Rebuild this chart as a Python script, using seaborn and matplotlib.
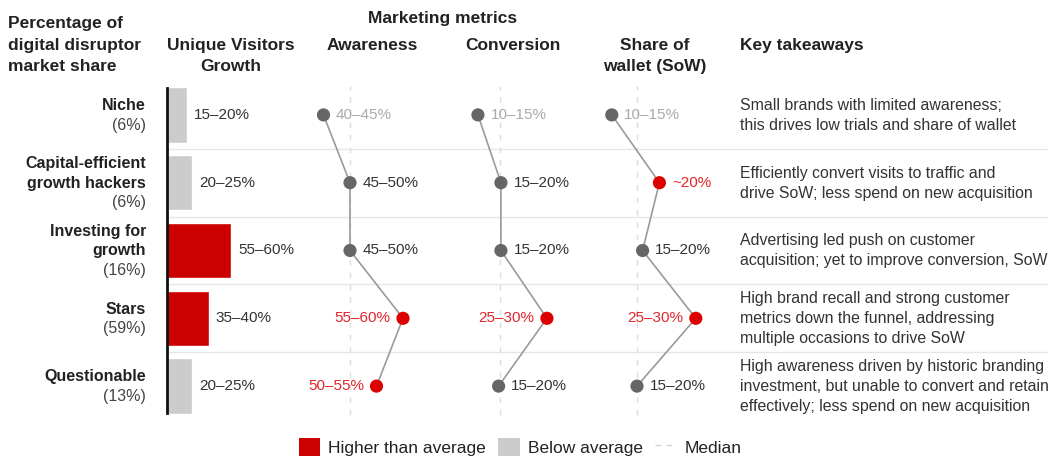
import matplotlib
matplotlib.use("Agg")
import matplotlib.pyplot as plt
from matplotlib.patches import Patch
from matplotlib.lines import Line2D
import seaborn as sns
import pandas as pd

# ---- data ----
segments = ["Niche", "Capital-efficient\ngrowth hackers", "Investing for\ngrowth", "Stars", "Questionable"]
segment_share = ["(6%)", "(6%)", "(16%)", "(59%)", "(13%)"]

visitor_growth = [17.5, 22.5, 57.5, 37.5, 22.5]
visitor_labels = ["15–20%", "20–25%", "55–60%", "35–40%", "20–25%"]
visitor_level = ["below", "below", "higher", "higher", "below"]

awareness = [42.5, 47.5, 47.5, 57.5, 52.5]
awareness_labels = ["40–45%", "45–50%", "45–50%", "55–60%", "50–55%"]
awareness_level = ["low", "median", "median", "higher", "higher"]

conversion = [12.5, 17.5, 17.5, 27.5, 17.0]
conversion_labels = ["10–15%", "15–20%", "15–20%", "25–30%", "15–20%"]
conversion_level = ["low", "median", "median", "higher", "median"]

sow = [12.5, 21.0, 18.0, 27.5, 17.0]
sow_labels = ["10–15%", "~20%", "15–20%", "25–30%", "15–20%"]
sow_level = ["low", "higher", "median", "higher", "median"]

medians = [47.5, 17.3, 17.0]

takeaways = [
    "Small brands with limited awareness;\nthis drives low trials and share of wallet",
    "Efficiently convert visits to traffic and\ndrive SoW; less spend on new acquisition",
    "Advertising led push on customer\nacquisition; yet to improve conversion, SoW",
    "High brand recall and strong customer\nmetrics down the funnel, addressing\nmultiple occasions to drive SoW",
    "High awareness driven by historic branding\ninvestment, but unable to convert and retain\neffectively; less spend on new acquisition",
]

# ---- style ----
RED = "#cc0000"
LIGHT = "#cccccc"
DOT_GRAY = "#666666"
LABEL_COLORS = {"low": "#aaaaaa", "median": "#333333", "higher": "#e2262b"}
DOT_COLORS = {"low": DOT_GRAY, "median": DOT_GRAY, "higher": "#dd0000"}
TXT = "#222222"
FS = 11
FS_TAKE = 11.4
FS_ROW = 11.5
FS_HEAD = 12.5

sns.set_theme(style="white")
plt.rcParams["font.family"] = ["Liberation Sans", "DejaVu Sans"]

W, H = 1048, 459
TOP, BOTTOM = 81, 420
fig = plt.figure(figsize=(W / 100, H / 100), dpi=100)


def px_axes(x0, x1):
    ax = fig.add_axes([x0 / W, 1 - BOTTOM / H, (x1 - x0) / W, (BOTTOM - TOP) / H])
    ax.set_ylim(4.5, -0.5)
    ax.patch.set_alpha(0)
    return ax


def ftext(x, y, s, **kw):
    kw.setdefault("fontsize", FS_HEAD)
    kw.setdefault("color", TXT)
    fig.text(x / W, 1 - y / H, s, va="baseline", **kw)


def stacked(ax, x, row, lines, pitch, weights, colors, ha, fs):
    n = len(lines)
    for i, (ln, w, c) in enumerate(zip(lines, weights, colors)):
        off = -((i - (n - 1) / 2) * pitch + 5) * 0.72
        ax.annotate(ln, xy=(x, row), xytext=(0, off), textcoords="offset points",
                    ha=ha, va="baseline", fontsize=fs, fontweight=w, color=c,
                    annotation_clip=False)


# ---- background: separators, row labels, takeaways ----
bg = px_axes(0, W)
bg.set_xlim(0, W)
bg.axis("off")
bg.hlines([0.5, 1.5, 2.5, 3.5], 167, W, color="#e6e6e6", lw=1)
for r, (seg, share, tk) in enumerate(zip(segments, segment_share, takeaways)):
    name_lines = seg.split("\n")
    stacked(bg, 146, r, name_lines + [share], 19.5,
            ["bold"] * len(name_lines) + ["normal"], [TXT] * len(name_lines) + ["#444444"],
            "right", FS_ROW)
    tk_lines = tk.split("\n")
    stacked(bg, 740, r, tk_lines, 20, ["normal"] * len(tk_lines), ["#333333"] * len(tk_lines),
            "left", FS_TAKE)

# ---- headers ----
ftext(8, 28, "Percentage of", fontweight="bold")
ftext(8, 50, "digital disruptor", fontweight="bold")
ftext(8, 71, "market share", fontweight="bold")
ftext(443, 23, "Marketing metrics", fontweight="bold", ha="center")
ftext(231, 50, "Unique Visitors", fontweight="bold", ha="center")
ftext(231, 71, "Growth", fontweight="bold", ha="center")
ftext(372, 50, "Awareness", fontweight="bold", ha="center")
ftext(513, 50, "Conversion", fontweight="bold", ha="center")
ftext(655, 50, "Share of", fontweight="bold", ha="center")
ftext(655, 71, "wallet (SoW)", fontweight="bold", ha="center")
ftext(740, 50, "Key takeaways", fontweight="bold")

# ---- unique visitors growth bars ----
bar_df = pd.DataFrame({"row": [str(i) for i in range(5)], "growth": visitor_growth,
                       "level": visitor_level, "label": visitor_labels})
axb = px_axes(167, 300)
sns.barplot(data=bar_df, x="growth", y="row", hue="level", palette={"higher": RED, "below": LIGHT},
            dodge=False, width=0.82, saturation=1, legend=False, ax=axb)
axb.set_xlim(0, 133 / 1.12)
axb.set_ylim(4.5, -0.5)
for s in ["top", "right", "bottom"]:
    axb.spines[s].set_visible(False)
axb.spines["left"].set_color("#111111")
axb.spines["left"].set_linewidth(2)
axb.spines["left"].set_bounds(-0.4, 4.4)
axb.set_xticks([])
axb.set_yticks([])
axb.set_xlabel("")
axb.set_ylabel("")
for r, (v, lab) in enumerate(zip(visitor_growth, visitor_labels)):
    axb.annotate(lab, xy=(v, r), xytext=(5, 0), textcoords="offset points",
                 ha="left", va="center", fontsize=FS, color="#333333")

# ---- marketing metric dot columns ----
metrics = [
    ("Awareness", awareness, awareness_labels, awareness_level, 350, 5.3),
    ("Conversion", conversion, conversion_labels, conversion_level, 500, 4.6),
    ("Share of wallet", sow, sow_labels, sow_level, 637, 5.6),
]
left_labels = {("Awareness", 3), ("Awareness", 4), ("Conversion", 3), ("Share of wallet", 3)}

for (name, vals, labs, levels, med_px, scale), med in zip(metrics, medians):
    x0, x1 = med_px - 70, med_px + 100
    ax = px_axes(x0, x1)
    df = pd.DataFrame({"value": vals, "row": list(range(5)), "level": levels})
    ax.axvline(med, ymin=0.015, ymax=0.985, color="#dddddd", lw=1, ls=(0, (4, 5)), zorder=1)
    sns.lineplot(data=df, x="value", y="row", sort=False, estimator=None,
                 color="#9a9a9a", lw=1.2, ax=ax, zorder=2)
    sns.scatterplot(data=df, x="value", y="row", hue="level", palette=DOT_COLORS,
                    s=90, edgecolor="none", legend=False, ax=ax, zorder=3)
    ax.set_xlim(med - (med_px - x0) / scale, med + (x1 - med_px) / scale)
    ax.set_ylim(4.5, -0.5)
    ax.axis("off")
    for r, (v, lab, lvl) in enumerate(zip(vals, labs, levels)):
        left = (name, r) in left_labels
        ax.annotate(lab, xy=(v, r), xytext=(-9 if left else 9, 0), textcoords="offset points",
                    ha="right" if left else "left", va="center", fontsize=FS,
                    color=LABEL_COLORS[lvl], annotation_clip=False)

# ---- legend ----
handles = [
    Patch(facecolor=RED, edgecolor="none"),
    Patch(facecolor=LIGHT, edgecolor="none"),
    Line2D([], [], color="#d5d5d5", lw=1, ls=(0, (4, 4))),
]
fig.legend(handles, ["Higher than average", "Below average", "Median"],
           loc="center", bbox_to_anchor=(520 / W, 1 - 447 / H), ncol=3, frameon=False,
           fontsize=12.5, handlelength=1.25, handleheight=1.25, handletextpad=0.45,
           columnspacing=0.7, labelcolor="#222222")

fig.savefig("out.png", dpi=100, facecolor="white")
